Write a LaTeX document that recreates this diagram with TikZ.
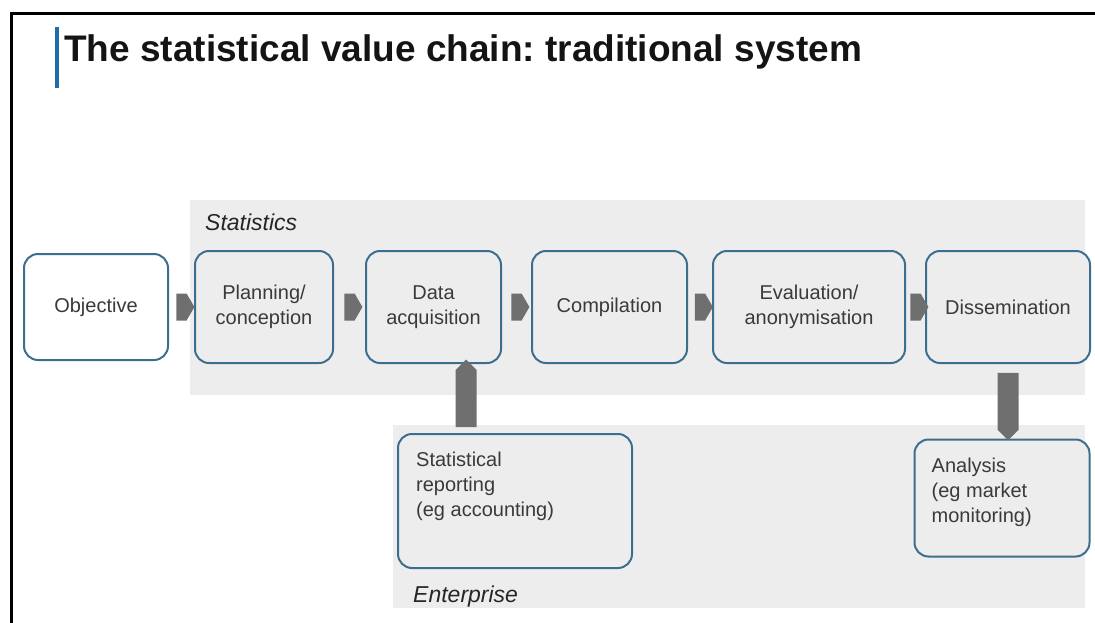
\documentclass[tikz,border=0pt]{standalone}
\usepackage{fontspec}
\setmainfont{Liberation Sans}
\usetikzlibrary{positioning,shapes.symbols}
\definecolor{bandgray}{HTML}{EDEDED}
\definecolor{boxblue}{HTML}{3E6E8E}
\definecolor{chevgray}{HTML}{6F6F6F}
\definecolor{inkgray}{HTML}{3A3A3A}
\definecolor{titleblue}{HTML}{1F6CAB}
\frenchspacing

\begin{document}
\begin{tikzpicture}[x=1pt,y=-1pt,
  stage/.style={draw=boxblue,line width=2pt,rounded corners=14pt,fill=bandgray,
    minimum height=112pt,inner sep=4pt,align=center,text=inkgray,
    font=\fontsize{20}{25}\selectfont},
  note/.style={anchor=north west,align=left,inner sep=0pt,text=inkgray,
    font=\fontsize{20}{25}\selectfont},
  bandlabel/.style={anchor=base west,inner sep=0pt,text=black!85,
    font=\fontsize{23}{26}\selectfont\itshape},
  flow/.style={signal,signal to=east,signal pointer angle=120,fill=chevgray,
    minimum width=18pt,minimum height=27pt,inner sep=0pt},
  feed/.style={signal,signal pointer angle=90,fill=chevgray,
    minimum width=21pt,minimum height=57pt,inner sep=0pt}]
  \useasboundingbox (0,0) rectangle (1095,623);
  % slide frame and heading
  \draw[line width=3pt] (11,623) -- (11,14) -- (1095,14);
  \fill[titleblue] (55,27) rectangle (59,88);
  \node[anchor=base west,inner sep=0pt,text=black!92,
    font=\fontsize{37}{42}\selectfont\bfseries] (title) at (64,62)
    {The statistical value chain: traditional system};
  % shaded areas
  \fill[bandgray] (190,200) rectangle (1085,395);
  \fill[bandgray] (393,425) rectangle (1085,608);
  \node[bandlabel] (stat) at (205,230) {Statistics};
  \node[bandlabel] (ent) at (413,602) {Enterprise};
  % main chain
  \node[stage,fill=white,minimum width=144pt,minimum height=106pt] (obj) at (96,307) {Objective};
  \node[stage,minimum width=138pt,right=25pt of obj] (plan) {Planning/\\conception};
  \node[stage,minimum width=135pt,right=31pt of plan] (acq) {Data\\acquisition};
  \node[stage,minimum width=155pt,right=29pt of acq] (comp) {Compilation};
  \node[stage,minimum width=192pt,right=24pt of comp] (eval) {Evaluation/\\anonymisation};
  \node[stage,minimum width=164pt,right=19pt of eval] (diss) {Dissemination};
  \path (obj.east) -- node[flow] {} (plan.west);
  \path (plan.east) -- node[flow] {} (acq.west);
  \path (acq.east) -- node[flow] {} (comp.west);
  \path (comp.east) -- node[flow] {} (eval.west);
  \path (eval.east) -- node[flow] {} (diss.west);
  % enterprise side
  \node[stage,minimum width=234pt,minimum height=134pt] (rep) at (515,501) {};
  \node[note] (reptext) at ([shift={(19,19)}]rep.north west)
    {Statistical\\reporting\\(eg accounting)};
  \node[stage,minimum width=175pt,minimum height=117pt] (ana) at (1002,498) {};
  \node[note] (anatext) at ([shift={(18,19)}]ana.north west)
    {Analysis\\(eg market\\monitoring)};
  \coordinate (upx) at (466,0);
  \path (rep.north -| upx) -- node[feed,signal to=north] {} (acq.south -| upx);
  \path (diss.south) -- node[feed,signal to=south] {} (ana.north -| diss.south);
\end{tikzpicture}
\end{document}
